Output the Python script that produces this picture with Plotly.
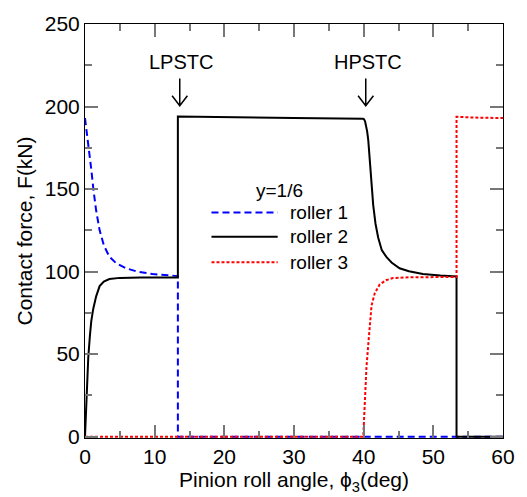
import plotly.graph_objects as go

# ---- data ----
roller1_x = [0, 0.3, 0.6, 0.9, 1.2, 1.6, 2.1, 2.7, 3.5, 4.5, 5.9, 7.5, 9.7, 11.5, 13.33, 13.33, 60]
roller1_y = [193, 183, 175.5, 162, 150, 137, 125, 116, 109, 105, 102, 100, 98.5, 97.8, 97.3, 0, 0]

roller2_x = [0, 0.1, 0.25, 0.47, 0.7, 0.9, 1.18, 1.6, 2.1, 2.7, 3.5, 5, 8, 13.33, 13.33, 20, 30,
             39.9, 40.05, 40.2, 40.35, 40.5, 40.66, 40.83, 41.0, 41.37, 41.7, 42.08, 42.6, 43.26,
             44.0, 45.15, 46.5, 48.5, 51, 53.33, 53.33, 60]
roller2_y = [0, 12, 28, 48, 61, 70, 77.4, 85, 91.2, 94, 95.5, 96.2, 96.4, 96.5, 194, 193.5, 193,
             192.6, 192.3, 191, 188.5, 185, 179.7, 170, 160, 140.3, 129, 120.7, 113, 108.9,
             105.5, 102, 100.2, 98.6, 97.6, 97.1, 0, 0]

roller3_x = [0, 39.95, 40.05, 40.19, 40.4, 40.66, 40.9, 41.13, 41.6, 42.3, 43.2, 44.2, 46, 48.5,
             53.33, 53.33, 56, 60]
roller3_y = [0, 0, 10, 26.3, 42, 55.8, 69, 79.4, 87, 92.2, 94.8, 96.1, 96.5, 96.7,
             96.8, 193.8, 193.3, 193]

series_names = ["roller 1", "roller 2", "roller 3"]
legend_title = "y=1/6"

x_ticks = [0, 10, 20, 30, 40, 50, 60]
y_ticks = [0, 50, 100, 150, 200, 250]

markers = ["LPSTC", "HPSTC"]
marker_x = [13.6, 40.3]

# ---- styling ----
FONT = "Arial, Liberation Sans, sans-serif"
FS_AX = 21
FS_LEG = 19
FS_MK = 20
W, H = 527, 497
L, R, T, B = 85, 19, 14, 59
styles = [
    dict(color="#0000ff", width=2, dash="7px,4px"),
    dict(color="#000000", width=2, dash="solid"),
    dict(color="#ff0000", width=2, dash="3px,2px"),
]

fig = go.Figure()
for xs, ys, name, st in zip([roller1_x, roller2_x, roller3_x],
                            [roller1_y, roller2_y, roller3_y], series_names, styles):
    fig.add_trace(go.Scatter(x=xs, y=ys, mode="lines", name=name, line=st,
                             cliponaxis=False, showlegend=False))

# manual legend (pixel positions converted to paper coordinates)
pw, ph = W - L - R, H - T - B
def px(x):
    return (x - L) / pw
def py(y):
    return (H - B - y) / ph

shapes = []
annotations = []
annotations.append(dict(text=legend_title, x=px(282), y=py(185), xref="paper", yref="paper",
                        showarrow=False, font=dict(size=FS_LEG, color="black", family=FONT),
                        xanchor="center", yanchor="middle"))
for i, (name, st) in enumerate(zip(series_names, styles)):
    yy = [207, 232, 258][i]
    shapes.append(dict(type="line", xref="paper", yref="paper", x0=px(213), x1=px(280),
                       y0=py(yy), y1=py(yy), line=st))
    annotations.append(dict(text=name, x=px(290), y=py(yy), xref="paper", yref="paper",
                            showarrow=False, font=dict(size=FS_LEG, color="black", family=FONT),
                            xanchor="left", yanchor="middle"))

# LPSTC / HPSTC labels with open arrows
for name, mx in zip(markers, marker_x):
    annotations.append(dict(text=name, x=mx + 0.25, y=227, xref="x", yref="y", showarrow=False,
                            font=dict(size=FS_MK, color="black", family=FONT),
                            xanchor="center", yanchor="middle"))
    ytop, ybot, dx, dy = 217, 200.5, 1.1, 6
    shapes.append(dict(type="path", xref="x", yref="y",
                       path=f"M{mx},{ytop} L{mx},{ybot} M{mx-dx},{ybot+dy} L{mx},{ybot} L{mx+dx},{ybot+dy}",
                       line=dict(color="black", width=1.5)))

axis_common = dict(showline=True, linecolor="black", linewidth=1, mirror="ticks",
                   ticks="inside", ticklen=13, tickcolor="#777777", tickwidth=1.5,
                   showgrid=False, zeroline=False,
                   tickfont=dict(size=FS_AX, color="black", family=FONT))

fig.update_layout(
    width=W, height=H,
    margin=dict(l=L, r=R, t=T, b=B),
    plot_bgcolor="white", paper_bgcolor="white",
    font=dict(family=FONT, size=FS_AX, color="black"),
    shapes=shapes, annotations=annotations,
    xaxis=dict(range=[0, 60], tickvals=x_ticks, ticktext=[str(v) for v in x_ticks],
               minor=dict(dtick=5, ticks="inside", ticklen=7, tickcolor="#777777", tickwidth=1.5),
               title=dict(text="Pinion roll angle, ϕ<sub>3</sub>(deg)", standoff=0,
                          font=dict(size=FS_AX, family=FONT)),
               **axis_common),
    yaxis=dict(range=[-0.8, 250], tickvals=y_ticks, ticktext=[str(v) for v in y_ticks],
               minor=dict(dtick=25, ticks="inside", ticklen=7, tickcolor="#777777", tickwidth=1.5),
               title=dict(text="Contact force, F(kN)", standoff=6,
                          font=dict(size=FS_AX, family=FONT)),
               **axis_common),
)

fig.write_html("out.html")
